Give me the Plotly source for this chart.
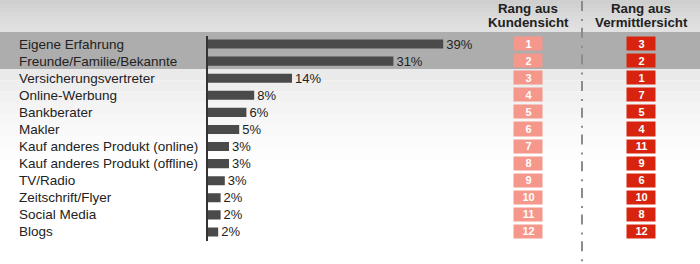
import plotly.graph_objects as go

# ---------------- data ----------------
categories = [
    "Eigene Erfahrung",
    "Freunde/Familie/Bekannte",
    "Versicherungsvertreter",
    "Online-Werbung",
    "Bankberater",
    "Makler",
    "Kauf anderes Produkt (online)",
    "Kauf anderes Produkt (offline)",
    "TV/Radio",
    "Zeitschrift/Flyer",
    "Social Media",
    "Blogs",
]
share_pct = [39.2, 30.9, 14.0, 7.7, 6.4, 5.2, 3.5, 3.5, 2.8, 2.1, 2.1, 1.7]
share_labels = ["39%", "31%", "14%", "8%", "6%", "5%", "3%", "3%", "3%", "2%", "2%", "2%"]
rank_kunden = [1, 2, 3, 4, 5, 6, 7, 8, 9, 10, 11, 12]
rank_vermittler = [3, 2, 1, 7, 5, 4, 11, 9, 6, 10, 8, 12]
rank_columns = ["Kundensicht", "Vermittlersicht"]
header_line1 = ["Rang aus", "Rang aus"]
header_line2 = ["Kundensicht", "Vermittlersicht"]

# ---------------- layout constants ----------------
W, H = 700, 264
FONT = "Liberation Sans, Arial, sans-serif"
TXT = "#222222"


def py(v):
    return 1 - v / H


def px(v):
    return v / W


shapes = []
# header gradient
top_cols = ["#cfcfcf", "#d2d2d2", "#d5d5d5", "#d8d8d8", "#dbdbdb", "#dddddd", "#dfdfdf", "#e1e1e1"]
n = len(top_cols)
for i, c in enumerate(top_cols):
    shapes.append(dict(type="rect", xref="paper", yref="paper", x0=0, x1=1,
                       y0=py(32 * (i + 1) / n), y1=py(32 * i / n),
                       fillcolor=c, line_width=0, layer="below"))
# lower background gradient
low_cols = ["#eaeaea", "#eeeeee", "#f1f1f1", "#f4f4f4", "#f7f7f7", "#f9f9f9", "#fbfbfb", "#fdfdfd"]
n = len(low_cols)
for i, c in enumerate(low_cols):
    shapes.append(dict(type="rect", xref="paper", yref="paper", x0=0, x1=1,
                       y0=py(69 + 90 * (i + 1) / n), y1=py(69 + 90 * i / n),
                       fillcolor=c, line_width=0, layer="below"))
# highlight band for the top rows
shapes.append(dict(type="rect", xref="paper", yref="paper", x0=0, x1=1,
                   y0=py(69), y1=py(32), fillcolor="#adadad", line_width=0, layer="below"))
# dash-dot separator
shapes.append(dict(type="line", xref="paper", yref="paper", x0=px(582), x1=px(582),
                   y0=py(1), y1=py(264), line=dict(color="#8c8c8c", width=2, dash="10px,8px,2px,6.7px"),
                   layer="below"))

fig = go.Figure()

fig.add_trace(go.Bar(
    y=categories, x=share_pct, orientation="h", width=0.53,
    marker=dict(color="#4a4a4a", line_width=0),
    text=share_labels, textposition="outside", cliponaxis=False, constraintext="none",
    textfont=dict(size=13, color=TXT, family=FONT),
    xaxis="x", yaxis="y", hoverinfo="skip",
))

z = [[j for j in range(len(rank_columns))] for _ in categories]
txt = [[str(k), str(v)] for k, v in zip(rank_kunden, rank_vermittler)]
fig.add_trace(go.Heatmap(
    x=rank_columns, y=categories, z=z, text=txt, texttemplate="%{text}",
    textfont=dict(size=11, color="white", family=FONT, weight="bold"),
    colorscale=[[0, "#f5978b"], [1, "#d8240e"]], zmin=0, zmax=1, showscale=False,
    xgap=84, ygap=3, xaxis="x2", yaxis="y", hoverinfo="skip",
))

annotations = []
for c in categories:
    annotations.append(dict(x=px(17), xref="paper", y=c, yref="y", text=c, showarrow=False,
                            xanchor="left", yanchor="middle",
                            font=dict(size=13.5, color=TXT, family=FONT)))
for col, l1, l2 in zip(rank_columns, header_line1, header_line2):
    annotations.append(dict(x=col, xref="x2", y=py(8.5), yref="paper", text="<b>%s</b>" % l1,
                            showarrow=False, xanchor="center", yanchor="middle",
                            font=dict(size=13.3, color=TXT, family=FONT)))
    annotations.append(dict(x=col, xref="x2", y=py(22.5), yref="paper", text="<b>%s</b>" % l2,
                            showarrow=False, xanchor="center", yanchor="middle",
                            font=dict(size=13.3, color=TXT, family=FONT)))

fig.update_layout(
    width=W, height=H, autosize=False,
    margin=dict(l=0, r=0, t=0, b=0, pad=0),
    paper_bgcolor="white", plot_bgcolor="rgba(0,0,0,0)",
    showlegend=False, barmode="overlay",
    shapes=shapes, annotations=annotations,
    xaxis=dict(domain=[px(208), 1], range=[0, 82], visible=False, fixedrange=True),
    xaxis2=dict(domain=[px(471.5), px(697.5)], range=[-0.5, 1.5], visible=False,
                anchor="y", fixedrange=True, type="category"),
    yaxis=dict(domain=[py(240.5), py(35.5)], type="category", categoryorder="array",
               categoryarray=categories, range=[11.5, -0.5], showticklabels=False,
               showgrid=False, zeroline=False, ticks="", showline=True,
               linecolor="#333333", linewidth=1.5, fixedrange=True),
)

fig.write_html("out.html")
